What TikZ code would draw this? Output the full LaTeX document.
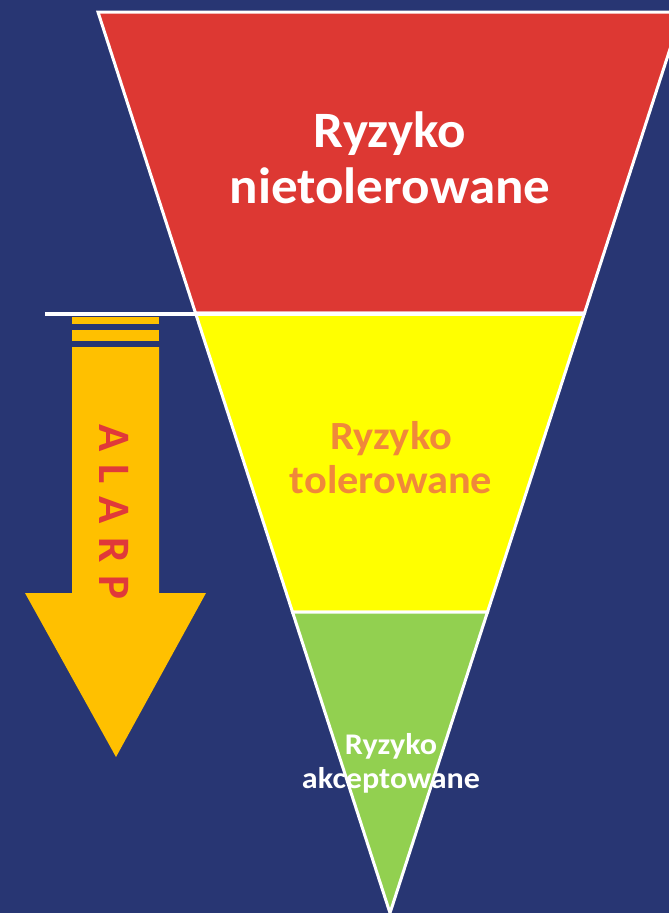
\documentclass[tikz,border=0pt]{standalone}
\usepackage{fontspec}
\setmainfont{Carlito}
\definecolor{bgnavy}{HTML}{283673}
\definecolor{bandred}{HTML}{DD3833}
\definecolor{bandyellow}{HTML}{FFFF00}
\definecolor{bandgreen}{HTML}{92D050}
\definecolor{arroworange}{HTML}{FFC000}
\definecolor{alarpred}{HTML}{E0393A}
\definecolor{tolorange}{HTML}{F0883A}
\begin{document}
\begin{tikzpicture}[x=1pt,y=-1pt,
  band/.style={draw=white,line width=3pt,line join=miter},
  bigtxt/.style={font=\bfseries\fontsize{51}{56}\selectfont,text=white,anchor=base,inner sep=0pt,xscale=1.04},
  midtxt/.style={font=\bfseries\fontsize{40}{44}\selectfont,text=tolorange,anchor=base,inner sep=0pt,xscale=1.06},
  smalltxt/.style={font=\bfseries\fontsize{30}{35}\selectfont,text=white,anchor=base,inner sep=0pt,xscale=1.07},
  arrowtxt/.style={font=\bfseries\fontsize{45}{50}\selectfont,text=alarpred,inner sep=0pt,rotate=-90}]
\useasboundingbox (0,0) rectangle (669,913);
\clip (0,0) rectangle (669,913);
\fill[bgnavy] (0,0) rectangle (669,913);
% bands
\filldraw[band,fill=bandred] (98,12) -- (682,12) -- (584.5,313) -- (195.5,313) -- cycle;
\filldraw[band,fill=bandyellow] (195.5,313) -- (584.5,313) -- (487.5,612) -- (292.5,612) -- cycle;
\filldraw[band,fill=bandgreen] (292.5,612) -- (487.5,612) -- (390,913) -- cycle;
% white level line
\draw[white,line width=4pt] (45,314) -- (584.5,314);
% ALARP arrow
\fill[arroworange] (72,317) rectangle (159,324);
\fill[arroworange] (72,330) rectangle (159,341);
\fill[arroworange] (72,347) -- (159,347) -- (159,593) -- (206,593) -- (116,757) -- (25,593) -- (72,593) -- cycle;
\node[arrowtxt] (alarp) at (114,512) {A\kern13pt L\kern13pt A\kern13pt R\kern13pt P};
% labels
\node[bigtxt] (n1) at (390,147) {Ryzyko};
\node[bigtxt] (n2) at (390,203) {nietolerowane};
\node[midtxt] (t1) at (391,449) {Ryzyko};
\node[midtxt] (t2) at (391,493) {tolerowane};
\node[smalltxt] (a1) at (391,754) {Ryzyko};
\node[smalltxt] (a2) at (391,788) {akceptowane};
\end{tikzpicture}
\end{document}
